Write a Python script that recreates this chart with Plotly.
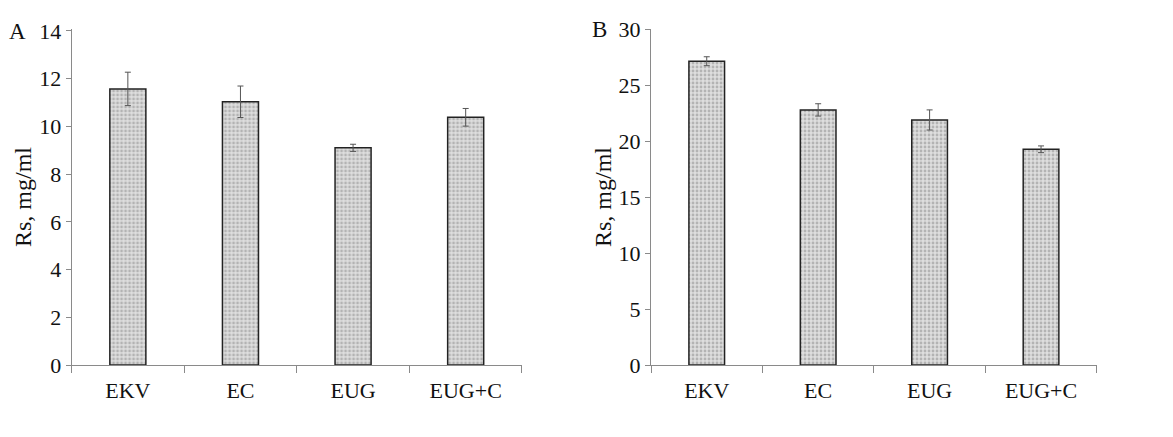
import plotly.graph_objects as go
from plotly.subplots import make_subplots

categories = ["EKV", "EC", "EUG", "EUG+C"]
values_a = [11.57, 11.03, 9.1, 10.38]
errors_a = [0.7, 0.66, 0.15, 0.37]
values_b = [27.15, 22.8, 21.9, 19.28]
errors_b = [0.4, 0.55, 0.9, 0.3]
yticks_a = [0, 2, 4, 6, 8, 10, 12, 14]
yticks_b = [0, 5, 10, 15, 20, 25, 30]
y_title = "Rs, mg/ml"

font_family = "'Liberation Serif', 'Times New Roman', serif"

fig = make_subplots(rows=1, cols=2)

bar_style = dict(
    marker=dict(
        color="#d0d0d0",
        line=dict(color="#222222", width=1.5),
        pattern=dict(shape=".", fgcolor="#888888", bgcolor="#dedede", size=4, solidity=0.4),
    ),
    width=0.32,
    showlegend=False,
)
err_style = dict(type="data", color="#555555", thickness=1, width=3, visible=True)

fig.add_trace(go.Bar(x=categories, y=values_a, error_y=dict(array=errors_a, **err_style), **bar_style), row=1, col=1)
fig.add_trace(go.Bar(x=categories, y=values_b, error_y=dict(array=errors_b, **err_style), **bar_style), row=1, col=2)

axis_common = dict(showline=True, linecolor="#8a8a8a", linewidth=1, ticks="outside",
                   tickcolor="#8a8a8a", ticklen=5, showgrid=False, zeroline=False,
                   tickfont=dict(family=font_family, size=22, color="#111111"))

fig.update_xaxes(tickson="boundaries", **axis_common)
fig.update_xaxes(ticklen=7, ticklabelstandoff=6)
fig.update_xaxes(domain=[0.061, 0.445], row=1, col=1)
fig.update_xaxes(domain=[0.555, 0.935], row=1, col=2)

title_font = dict(family=font_family, size=24, color="#111111")
fig.update_yaxes(**axis_common)
fig.update_yaxes(range=[0, 14.08], tickvals=yticks_a, row=1, col=1,
                 title=dict(text=y_title, font=title_font, standoff=0))
fig.update_yaxes(range=[0, 30.03], tickvals=yticks_b, row=1, col=2,
                 title=dict(text=y_title, font=title_font, standoff=0))

fig.add_annotation(text="A", xref="paper", yref="paper", x=0.006, y=0.994, xanchor="left", yanchor="middle",
                   showarrow=False, font=dict(family=font_family, size=23, color="#111111"))
fig.add_annotation(text="B", xref="paper", yref="paper", x=0.503, y=1.0, xanchor="left", yanchor="middle",
                   showarrow=False, font=dict(family=font_family, size=23, color="#111111"))

fig.update_layout(
    width=1173, height=437,
    margin=dict(l=0, r=0, t=29, b=72, autoexpand=False),
    plot_bgcolor="white", paper_bgcolor="white",
    bargap=0.68,
)

fig.write_html("out.html", config={"displayModeBar": False},
               post_script="document.body.style.margin='0px';")
